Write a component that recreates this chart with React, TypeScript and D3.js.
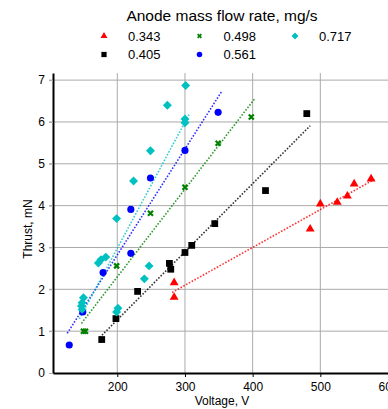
import React, { useRef, useEffect } from "react";
import * as d3 from "d3";

// flow rates (legend labels), one series per rate
const flowRates = ["0.343", "0.405", "0.498", "0.561", "0.717"];
const colors = ["#ff0000", "#000000", "#008000", "#0000ff", "#00c0c0"];

const voltage343 = [284, 284, 485, 500, 525, 540, 550, 575];
const thrust343 = [2.16, 1.81, 3.44, 4.04, 4.08, 4.23, 4.52, 4.64];

const voltage405 = [177, 198, 230, 277, 279, 300, 310, 344, 419, 480];
const thrust405 = [0.8, 1.3, 1.95, 2.62, 2.48, 2.88, 3.05, 3.57, 4.36, 6.2];

const voltage498 = [150, 153, 199, 249, 300, 349, 398];
const thrust498 = [1.0, 1.0, 2.56, 3.82, 4.44, 5.49, 6.12];

const voltage561 = [129, 149, 179, 220, 220, 249, 300, 349];
const thrust561 = [0.67, 1.46, 2.4, 2.86, 3.91, 4.66, 5.32, 6.23];

const voltage717 = [150, 148, 147, 148, 172, 176, 183, 199, 201, 199, 224, 240, 247, 249, 274, 300, 300, 301];
const thrust717 = [1.8, 1.68, 1.6, 1.52, 2.63, 2.71, 2.77, 3.69, 1.55, 1.46, 4.59, 2.25, 2.56, 5.31, 6.4, 6.07, 5.98, 6.87];

const xTicks = [200, 300, 400, 500, 600];
const yTicks = [0, 1, 2, 3, 4, 5, 6, 7];

const seriesVoltage = [voltage343, voltage405, voltage498, voltage561, voltage717];
const seriesThrust = [thrust343, thrust405, thrust498, thrust561, thrust717];

const FONT = "'Liberation Sans', Arial, sans-serif";

const Chart: React.FC = () => {
  const ref = useRef<SVGSVGElement | null>(null);

  useEffect(() => {
    if (!ref.current) return;
    const svg = d3.select(ref.current);
    svg.selectAll("*").remove();

    const left = 53, right = 388, top = 73, bottom = 373;

    const x = d3.scaleLinear().domain([105, 600]).range([left, right]);
    const y = d3.scaleLinear().domain([0, 7.17]).range([bottom, top]);

    // grid
    const grid = svg.append("g").attr("stroke", "#aaaaaa").attr("stroke-width", 1);
    grid.selectAll("line.v")
      .data(xTicks.filter(d => d < 600))
      .join("line")
      .attr("x1", d => x(d)).attr("x2", d => x(d))
      .attr("y1", top).attr("y2", bottom);
    grid.selectAll("line.h")
      .data(yTicks.filter(d => d > 0))
      .join("line")
      .attr("x1", left - 4).attr("x2", right)
      .attr("y1", d => y(d)).attr("y2", d => y(d));

    // trend lines (least squares per series)
    const trends = svg.append("g");
    seriesVoltage.forEach((vs, i) => {
      const ts = seriesThrust[i];
      const mv = d3.mean(vs) as number;
      const mt = d3.mean(ts) as number;
      const sxy = d3.sum(vs, (v, k) => (v - mv) * (ts[k] - mt));
      const sxx = d3.sum(vs, v => (v - mv) * (v - mv));
      const slope = sxy / sxx;
      const v0 = (d3.min(vs) as number) - 3;
      const v1 = (d3.max(vs) as number) + 5;
      const f = (v: number) => mt + slope * (v - mv);
      trends.append("line")
        .attr("x1", x(v0)).attr("y1", y(f(v0)))
        .attr("x2", x(v1)).attr("y2", y(f(v1)))
        .attr("stroke", colors[i])
        .attr("stroke-opacity", 0.8)
        .attr("stroke-width", 1.6)
        .attr("stroke-dasharray", "1.6,1.6");
    });

    // axes
    const xAxis = svg.append("g")
      .attr("transform", `translate(0,${bottom})`)
      .call(d3.axisBottom(x).tickValues(xTicks).tickSize(4).tickSizeOuter(0));
    xAxis.select(".domain").attr("stroke", "#000").attr("stroke-width", 2);
    xAxis.selectAll(".tick line").attr("stroke", "#000");
    xAxis.selectAll(".tick text")
      .attr("font-family", FONT).attr("font-size", 12).attr("fill", "#000").attr("dy", "0.95em");

    const yAxis = svg.append("g")
      .attr("transform", `translate(${left},0)`)
      .call(d3.axisLeft(y).tickValues(yTicks).tickSize(4).tickSizeOuter(0));
    yAxis.select(".domain").attr("stroke", "#000").attr("stroke-width", 2);
    yAxis.selectAll(".tick line").attr("stroke", "#aaaaaa");
    yAxis.selectAll(".tick text")
      .attr("font-family", FONT).attr("font-size", 12).attr("fill", "#000").attr("x", -8);

    // markers
    const symbols = [d3.symbolTriangle, d3.symbolSquare, d3.symbolX, d3.symbolCircle, d3.symbolSquare];
    const sizes = [34, 46, 18, 40, 40];
    const rotations = [0, 0, 0, 0, 45];

    const drawMarker = (g: any, i: number, cx: number, cy: number, scale: number) => {
      const p = g.append("path")
        .attr("d", d3.symbol(symbols[i], sizes[i] * scale)())
        .attr("transform", `translate(${cx},${cy}) rotate(${rotations[i]})`);
      if (i === 2) {
        p.attr("fill", "none").attr("stroke", colors[i]).attr("stroke-width", 2.2 * Math.sqrt(scale));
      } else {
        p.attr("fill", colors[i]);
      }
    };

    const marks = svg.append("g");
    seriesVoltage.forEach((vs, i) => {
      vs.forEach((v, k) => drawMarker(marks, i, x(v), y(seriesThrust[i][k]), 1));
    });

    // title + legend
    svg.append("text")
      .attr("x", 222).attr("y", 21)
      .attr("text-anchor", "middle")
      .attr("font-family", FONT).attr("font-size", 15.5)
      .text("Anode mass flow rate, mg/s");

    const legend = svg.append("g");
    flowRates.forEach((label, i) => {
      const col = Math.floor(i / 2);
      const row = i % 2;
      const mx = 104 + col * 95.5;
      const my = 36 + row * 18.5;
      drawMarker(legend, i, mx, my, 0.6);
      legend.append("text")
        .attr("x", mx + 24).attr("y", my + 4.5)
        .attr("font-family", FONT).attr("font-size", 13)
        .text(label);
    });

    // axis titles
    svg.append("text")
      .attr("x", 222).attr("y", 405)
      .attr("text-anchor", "middle")
      .attr("font-family", FONT).attr("font-size", 12)
      .text("Voltage, V");

    svg.append("text")
      .attr("transform", `translate(32,${(top + bottom) / 2 + 6}) rotate(-90)`)
      .attr("text-anchor", "middle")
      .attr("font-family", FONT).attr("font-size", 12)
      .text("Thrust, mN");
  }, []);

  return (
    <svg
      ref={ref}
      width={388}
      height={409}
      style={{ position: "absolute", left: 0, top: 0, background: "#fff" }}
    />
  );
};

export default function App() {
  return <Chart />;
}
